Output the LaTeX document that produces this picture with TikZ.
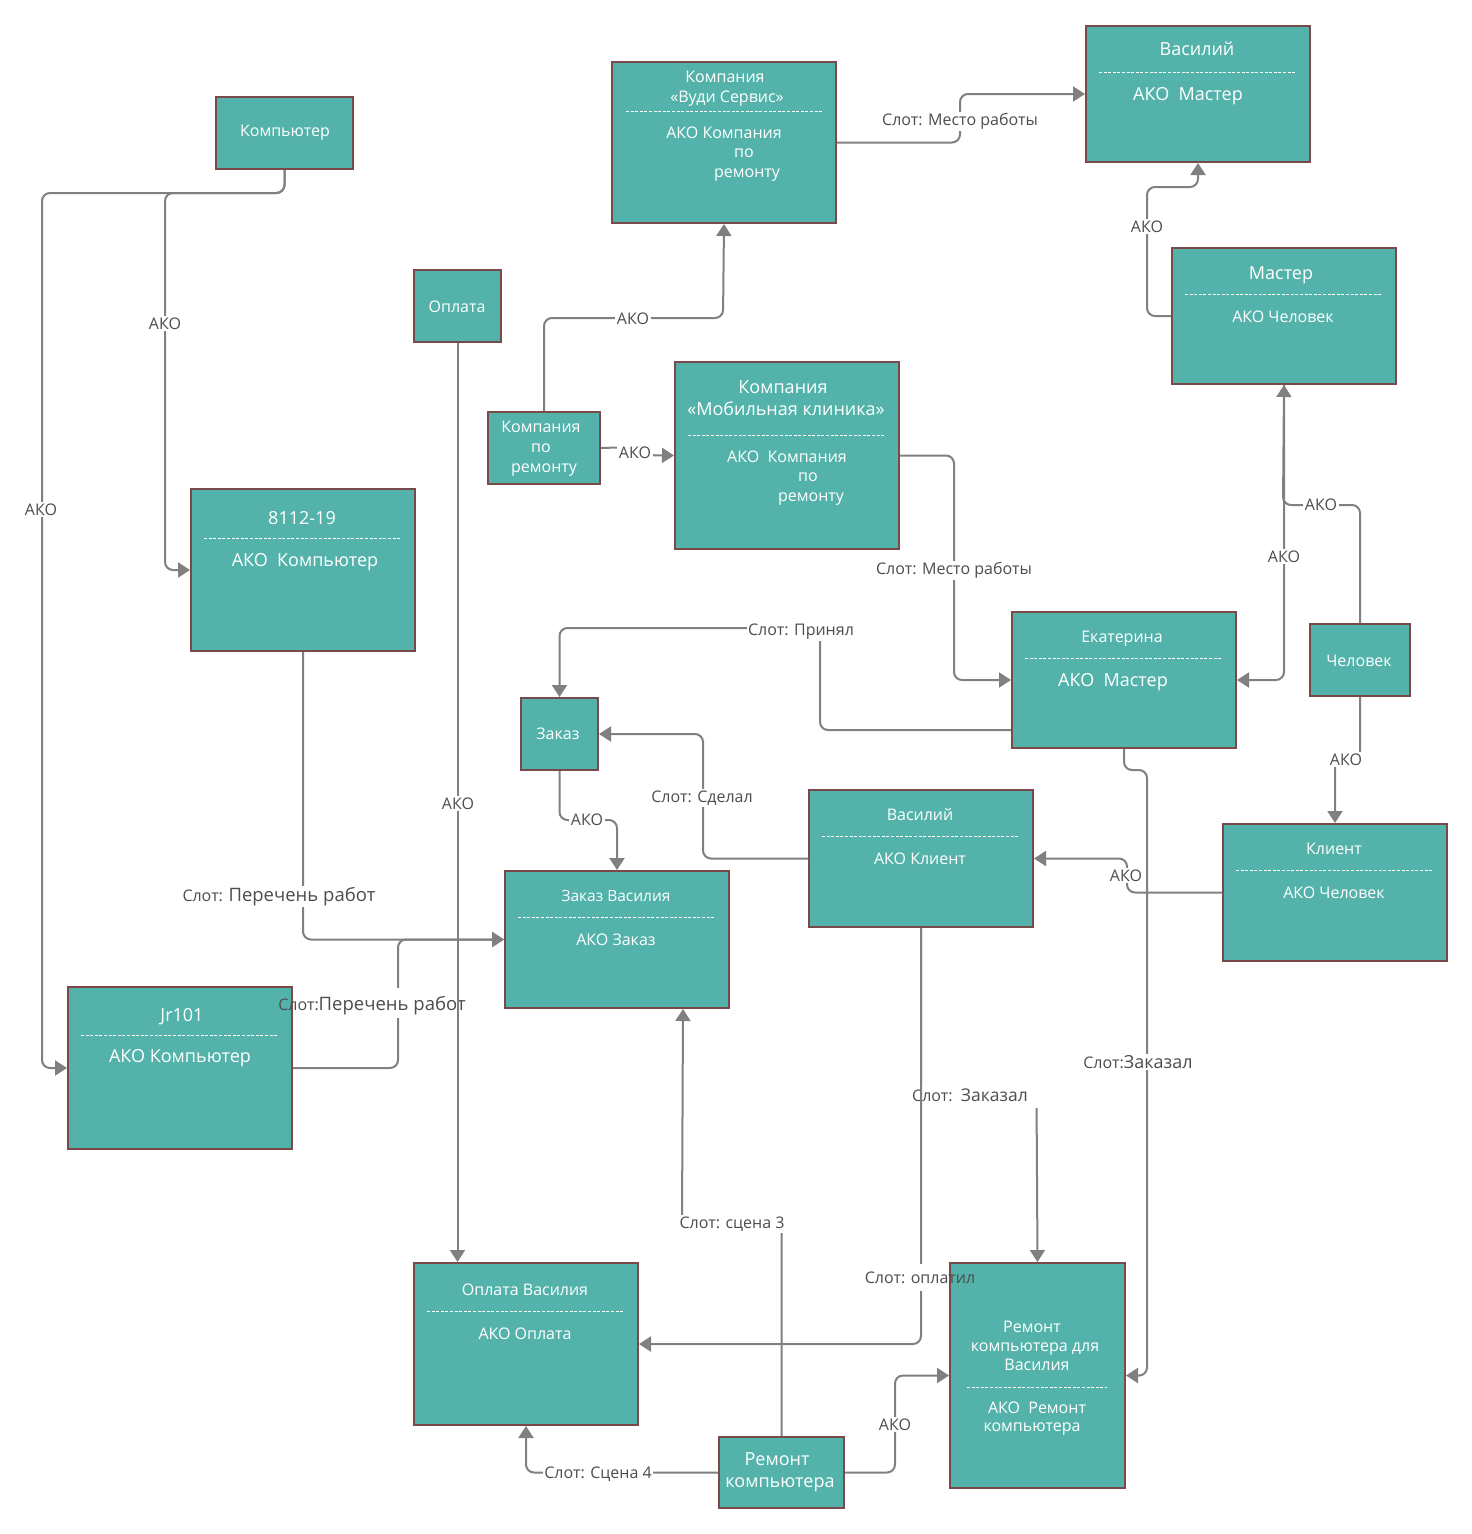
\documentclass[tikz,border=0pt]{standalone}
\usepackage{fontspec}
\setmainfont{Open Sans}
\usetikzlibrary{arrows.meta,calc}
\definecolor{boxfill}{HTML}{53B3AB}
\definecolor{boxline}{HTML}{7A4A4A}
\definecolor{conncol}{HTML}{808080}
\definecolor{lbltext}{HTML}{4D4D4D}
\begin{document}
\begin{tikzpicture}[x=1pt,y=-1pt,
  box/.style={draw=boxline, line width=2pt, fill=boxfill, rectangle, inner sep=0pt, anchor=north west},
  btx/.style={text=white, inner sep=0pt, anchor=base, yshift=-6.3pt, font=\fontsize{16}{19}\selectfont},
  bbig/.style={text=white, inner sep=0pt, anchor=base, yshift=-6.5pt, font=\fontsize{18}{21}\selectfont},
  bsm/.style={text=white, inner sep=0pt, anchor=base, yshift=-6pt, font=\fontsize{15.5}{18}\selectfont},
  sepline/.style={white, line width=0.8pt, dash pattern=on 3pt off 1.6pt},
  conn/.style={draw=conncol, line width=2pt, rounded corners=8pt},
  arr/.style={conn, -{Triangle[length=12pt,width=15pt]}},
  lbl/.style={fill=white, text=lbltext, inner sep=1.5pt, anchor=base, yshift=-6.3pt, font=\fontsize{16}{19}\selectfont},
  lblnf/.style={text=lbltext, inner sep=1.5pt, anchor=base, yshift=-6.3pt, font=\fontsize{16}{19}\selectfont},
]
\fill[white] (0,0) rectangle (1472,1534);
\useasboundingbox (0,0) rectangle (1472,1534);

% ---------- boxes ----------
\node[box, minimum width=137pt, minimum height=72pt] (comp) at (215,96) {};
\node[btx] (tcomp) at (285,130) {Компьютер};

\node[box, minimum width=224pt, minimum height=161pt] (vudi) at (611,61) {};
\node[btx] (tvudi1) at (725,76) {Компания};
\node[btx] (tvudi2) at (727,96) {«Вуди Сервис»};
\draw[sepline] (626,111) -- (822,111);
\node[btx] (tvudi3) at (724,132) {АКО Компания};
\node[btx] (tvudi4) at (744,151) {по};
\node[btx] (tvudi5) at (747,171) {ремонту};

\node[box, minimum width=224pt, minimum height=136pt] (vasa) at (1085,25) {};
\node[bbig] (tvasa1) at (1197,49) {Василий};
\draw[sepline] (1099,72) -- (1296,72);
\node[bbig] (tvasa2) at (1188,94) {АКО\ \ Мастер};

\node[box, minimum width=224pt, minimum height=136pt] (master) at (1171,247) {};
\node[bbig] (tmaster1) at (1281,273) {Мастер};
\draw[sepline] (1185,294) -- (1382,294);
\node[btx] (tmaster2) at (1283,316) {АКО Человек};

\node[box, minimum width=87pt, minimum height=72pt] (opl) at (413,269) {};
\node[btx] (topl) at (457,306) {Оплата};

\node[box, minimum width=112pt, minimum height=72pt] (cpr) at (487,411) {};
\node[btx] (tcpr1) at (541,426) {Компания};
\node[btx] (tcpr2) at (541,446) {по};
\node[btx] (tcpr3) at (544,466) {ремонту};

\node[box, minimum width=224pt, minimum height=187pt] (mob) at (674,361) {};
\node[bbig] (tmob1) at (783,387) {Компания};
\node[bbig] (tmob2) at (786,409) {«Мобильная клиника»};
\draw[sepline] (688,435) -- (884,435);
\node[btx] (tmob3) at (787,456) {АКО\ \ Компания};
\node[btx] (tmob4) at (808,475) {по};
\node[btx] (tmob5) at (811,495) {ремонту};

\node[box, minimum width=224pt, minimum height=162pt] (pc) at (190,488) {};
\node[bbig] (tpc1) at (302,518) {8112-19};
\draw[sepline] (204,538) -- (400,538);
\node[bbig] (tpc2) at (305,560) {АКО\ \ Компьютер};

\node[box, minimum width=224pt, minimum height=136pt] (ekat) at (1011,611) {};
\node[btx] (tekat1) at (1122,636) {Екатерина};
\draw[sepline] (1025,658) -- (1221,658);
\node[bbig] (tekat2) at (1113,680) {АКО\ \ Мастер};

\node[box, minimum width=100pt, minimum height=72pt] (chel) at (1309,623) {};
\node[btx] (tchel) at (1359,660) {Человек};

\node[box, minimum width=77pt, minimum height=72pt] (zakaz) at (520,697) {};
\node[btx] (tzakaz) at (558,733) {Заказ};

\node[box, minimum width=224pt, minimum height=137pt] (vasb) at (808,789) {};
\node[btx] (tvasb1) at (920,814) {Василий};
\draw[sepline] (822,836) -- (1019,836);
\node[btx] (tvasb2) at (920,858) {АКО Клиент};

\node[box, minimum width=224pt, minimum height=137pt] (klient) at (1222,823) {};
\node[btx] (tkl1) at (1334,848) {Клиент};
\draw[sepline] (1236,870) -- (1433,870);
\node[btx] (tkl2) at (1334,892) {АКО Человек};

\node[box, minimum width=224pt, minimum height=137pt] (zv) at (504,870) {};
\node[bsm] (tzv1) at (616,895) {Заказ Василия};
\draw[sepline] (518,917) -- (715,917);
\node[btx] (tzv2) at (616,939) {АКО Заказ};

\node[box, minimum width=224pt, minimum height=162pt] (jr) at (67,986) {};
\node[bbig] (tjr1) at (182,1015) {Jr101};
\draw[sepline] (81,1035) -- (277,1035);
\node[bbig] (tjr2) at (180,1056) {АКО Компьютер};

\node[box, minimum width=224pt, minimum height=162pt] (ov) at (413,1262) {};
\node[btx] (tov1) at (525,1289) {Оплата Василия};
\draw[sepline] (427,1311) -- (623,1311);
\node[btx] (tov2) at (525,1333) {АКО Оплата};

\node[box, minimum width=175pt, minimum height=225pt] (rkv) at (949,1262) {};
\node[btx] (trkv1) at (1032,1326) {Ремонт};
\node[btx] (trkv2) at (1035,1345) {компьютера для};
\node[btx] (trkv3) at (1037,1364) {Василия};
\draw[sepline] (967,1387) -- (1107,1387);
\node[btx] (trkv4) at (1037,1407) {АКО\ \ Ремонт};
\node[btx] (trkv5) at (1032,1425) {компьютера};

\node[box, minimum width=125pt, minimum height=71pt] (rk) at (718,1436) {};
\node[bbig] (trk1) at (777,1459) {Ремонт};
\node[bbig] (trk2) at (780,1481) {компьютера};

% ---------- connectors ----------
\draw[arr] (comp.south) |- (42,193) |- (jr.west);
\node[lbl] (la) at (41,509) {АКО};

\draw[arr] (comp.south) |- (165,193) |- (pc.west);
\node[lbl] (lb) at (165,323) {АКО};

\draw[arr] (cpr.north) |- (723,318) -- (vudi.south);
\node[lbl] (lc) at (633,318) {АКО};

\draw[arr] (cpr.east) -- (635,447) -- (635,455) -- (mob.west);
\node[lbl] (ld) at (635,452) {АКО};

\draw[arr] (vudi.east) -| (960,118) |- (vasa.west);
\node[lbl] (le) at (960,119) {Слот: Место работы};

\draw[arr] (master.west) -| (1147,187) -| (vasa.south);
\node[lbl] (lf) at (1147,226) {АКО};

\draw[arr] (mob.east) -| (954,568) |- (ekat.west);
\node[lbl] (lg) at (954,568) {Слот: Место работы};

\draw[arr] (master.south) |- (ekat.east);
\node[lbl] (lh1) at (1284,556) {АКО};

\draw[arr] (chel.north) |- (1283,505) -- (master.south);
\node[lbl] (lh2) at (1321,504) {АКО};

\draw[arr] ($(ekat.west)+(0,50)$) -| (820,628) -| (zakaz.north);
\node[lbl] (li) at (801,629) {Слот: Принял};

\draw[arr] (vasb.west) -| (703,796) |- (zakaz.east);
\node[lbl] (lj) at (702,796) {Слот: Сделал};

\draw[arr] (zakaz.south) |- (587,820) -| (zv.north);
\node[lbl] (lk) at (587,819) {АКО};

\draw[arr] (chel.south) |- (1346,759) -| (klient.north);
\node[lbl] (ll) at (1346,759) {АКО};

\draw[arr] (klient.west) -| (1127,875) |- (vasb.east);
\node[lbl] (lm) at (1126,875) {АКО};

\draw[arr] (ekat.south) |- (1147,770) |- (rkv.east);
\node[lbl] (ln) at (1138,1062) {{\fontsize{16}{19}\selectfont Слот:}{\fontsize{18}{21}\selectfont Заказал}};

\draw[arr] (pc.south) |- (zv.west);
\node[lbl] (lp) at (279,895) {{\fontsize{16}{19}\selectfont Слот:} {\fontsize{18.5}{22}\selectfont Перечень работ}};

\draw[arr] (jr.east) -| (398,1004) |- (zv.west);
\fill[white] (390,988) rectangle (406,1018);
\node[lblnf] (lq) at (372,1004) {{\fontsize{16}{19}\selectfont Слот:}{\fontsize{18.5}{22}\selectfont Перечень работ}};

\draw[arr] (rk.north) |- (682,1222) -- ($(zv.south)+(66,0)$);
\node[lbl] (ls) at (732,1222) {Слот: сцена 3};

\draw[arr] (rk.west) -| (ov.south);
\node[lbl] (lt) at (598,1472) {Слот: Сцена 4};

\draw[arr] (rk.east) -| (895,1424) |- (rkv.west);
\node[lbl] (lu) at (895,1424) {АКО};

\draw[arr] (vasb.south) |- (1036.5,1095) -- (rkv.north);
\node[lbl, anchor=base west, inner ysep=6pt] (lo2) at (910.5,1095) {{\fontsize{16}{19}\selectfont Слот:}\ \ {\fontsize{17.5}{21}\selectfont Заказал}\kern 24pt\null};

\draw[arr] (vasb.south) |- (ov.east);
\fill[white] (912,1264) rectangle (928,1291);
\node[lblnf] (lo1) at (920,1277) {Слот: оплатил};

\draw[arr] (opl.south) -- (opl.south |- ov.north);
\node[lbl] (lr) at (458,803) {АКО};
\end{tikzpicture}
\end{document}
